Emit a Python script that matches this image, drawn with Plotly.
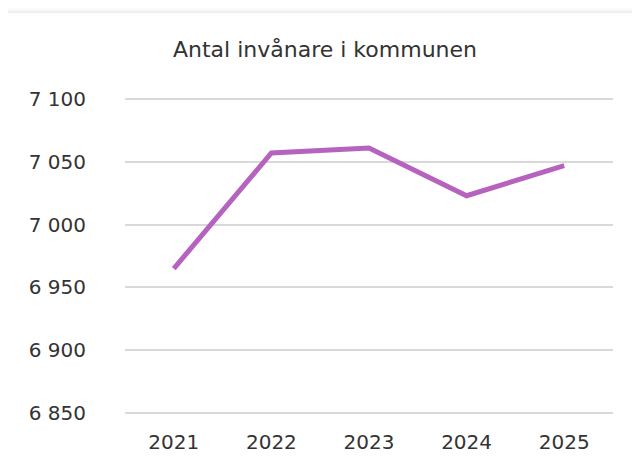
import plotly.graph_objects as go

years = ["2021", "2022", "2023", "2024", "2025"]
inhabitants = [6965, 7057, 7061, 7023, 7047]
y_ticks = [6850, 6900, 6950, 7000, 7050, 7100]
y_tick_labels = ["6 850", "6 900", "6 950", "7 000", "7 050", "7 100"]

# page body has an 8px margin, so figure coords = screen coords - 8
OFF = 8
W, H = 640, 466
PAD = 5  # px of extra range so the edge gridlines are drawn
L, R, T, B = 125 - OFF, 27 + OFF, 99 - OFF - PAD, 53 + OFF - PAD
pw, ph = W - L - R, H - T - B
units_per_px = 250 / (314)
YMIN = 6850 - PAD * units_per_px
YMAX = 7100 + PAD * units_per_px

def px(x):
    return (x - OFF - L) / pw

def py(y):
    return (H - B - (y - OFF)) / ph

FONT = "DejaVu Sans, Lato, sans-serif"

fig = go.Figure()
fig.add_trace(go.Scatter(
    x=years, y=inhabitants, mode="lines",
    line=dict(color="#b663c0", width=5, shape="linear"),
    hoverinfo="skip",
))

shapes = []
shadow = [(0, 8, "#fbfbfb"), (2, 10, "#f7f7f7"), (4, 11, "#f2f2f2"), (6, 12, "#ededed"), (8, 13, "#ffffff")]
for x0, y0, c in shadow:
    shapes.append(dict(type="rect", xref="paper", yref="paper",
                       x0=px(x0), x1=px(W + 40), y0=py(y0), y1=py(H + 40),
                       fillcolor=c, line=dict(width=0), layer="below"))

fig.update_layout(
    width=W, height=H,
    margin=dict(l=L, r=R, t=T, b=B),
    paper_bgcolor="white", plot_bgcolor="rgba(0,0,0,0)",
    showlegend=False,
    shapes=shapes,
    title=dict(text="Antal invånare i kommunen", x=(325 - OFF) / W, xanchor="center",
               y=1 - (49 - OFF) / H, yanchor="middle",
               font=dict(family=FONT, size=22, color="#333333")),
    font=dict(family=FONT, size=19, color="#333333"),
    xaxis=dict(type="category", range=[-0.5, 4.5], showgrid=False, zeroline=False,
               showline=False, ticks="", tickfont=dict(size=20, color="#333333"),
               ticklabelstandoff=5 + PAD),
    yaxis=dict(range=[YMIN, YMAX], tickvals=y_ticks, ticktext=y_tick_labels,
               showgrid=True, gridcolor="#d9d9d9", gridwidth=1.5, zeroline=False,
               showline=False, ticks="", tickfont=dict(size=20, color="#333333"),
               ticklabelstandoff=38),
)

fig.write_html("out.html")
